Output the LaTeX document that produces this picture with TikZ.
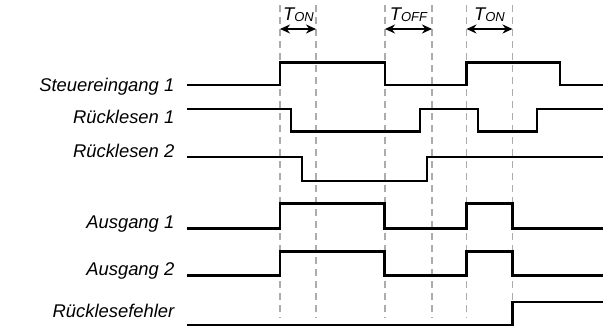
\documentclass[tikz,border=0pt]{standalone}
\usepackage{fontspec}
\setmainfont{Liberation Sans}
\usetikzlibrary{arrows.meta}

\begin{document}
\begin{tikzpicture}[x=1pt,y=-1pt,
  sig/.style={line width=2.4pt},
  guide/.style={gray!65, line width=1.1pt, dash pattern=on 7pt off 5pt},
  lbl/.style={anchor=base east, inner sep=0pt, font=\fontsize{18.4}{20}\selectfont\itshape},
  tlbl/.style={anchor=base, inner sep=0pt, font=\fontsize{18.4}{20}\selectfont\itshape},
  span/.style={line width=2.2pt, {Stealth[length=10pt,width=9pt]}-{Stealth[length=10pt,width=9pt]}}]
  \useasboundingbox (0,0) rectangle (603,332);

  % time marks
  \coordinate (m1) at (280,5);
  \coordinate (m2) at (316,5);
  \coordinate (m3) at (385,5);
  \coordinate (m4) at (432,5);
  \coordinate (m5) at (466.5,5);
  \coordinate (m6) at (512.5,5);
  \foreach \m in {m1,m2,m3,m4,m5,m6}
    \draw[guide] (\m) -- ++(0,313);

  % intervals
  \coordinate (a1) at (280,29);
  \coordinate (b1) at (316,29);
  \coordinate (a2) at (385,29);
  \coordinate (b2) at (432,29);
  \coordinate (a3) at (466.5,29);
  \coordinate (b3) at (512.5,29);
  \draw[span] (a1) -- (b1);
  \draw[span] (a2) -- (b2);
  \draw[span] (a3) -- (b3);
  \node (ton1) [tlbl] at (298.5,20) {T\raisebox{-1pt}{\fontsize{13}{13}\selectfont ON}};
  \node (toff) [tlbl] at (408.5,20) {T\raisebox{-1pt}{\fontsize{13}{13}\selectfont OFF}};
  \node (ton2) [tlbl] at (489.5,20) {T\raisebox{-1pt}{\fontsize{13}{13}\selectfont ON}};

  % signal names
  \node (s1) [lbl] at (174.5,91.7) {Steuereingang 1};
  \node (r1) [lbl] at (174.5,123.3) {Rücklesen 1};
  \node (r2) [lbl] at (174.5,157) {Rücklesen 2};
  \node (q1) [lbl] at (174.5,228.3) {Ausgang 1};
  \node (q2) [lbl] at (174.5,275.5) {Ausgang 2};
  \node (fe) [lbl] at (174.5,317) {Rücklesefehler};

  % waveforms
  \draw[sig] (187,85) -- (280,85) -- (280,62.5) -- (385,62.5) -- (385,85)
    -- (466.5,85) -- (466.5,62.5) -- (560,62.5) -- (560,85) -- (603,85);
  \draw[sig] (187,109) -- (291,109) -- (291,131.5) -- (420,131.5) -- (420,109)
    -- (478,109) -- (478,131.5) -- (537,131.5) -- (537,109) -- (603,109);
  \draw[sig] (187,157) -- (302,157) -- (302,181) -- (427,181) -- (427,157) -- (603,157);
  \draw[sig] (187,228.3) -- (280,228.3) -- (280,203.5) -- (384.5,203.5) -- (384.5,228.3)
    -- (466.5,228.3) -- (466.5,203.5) -- (512.5,203.5) -- (512.5,228.3) -- (603,228.3);
  \draw[sig] (187,275.5) -- (280,275.5) -- (280,251.5) -- (384.5,251.5) -- (384.5,275.5)
    -- (466.5,275.5) -- (466.5,251.5) -- (512.5,251.5) -- (512.5,275.5) -- (603,275.5);
  \draw[sig] (187,325) -- (512.5,325) -- (512.5,302) -- (603,302);
\end{tikzpicture}
\end{document}
